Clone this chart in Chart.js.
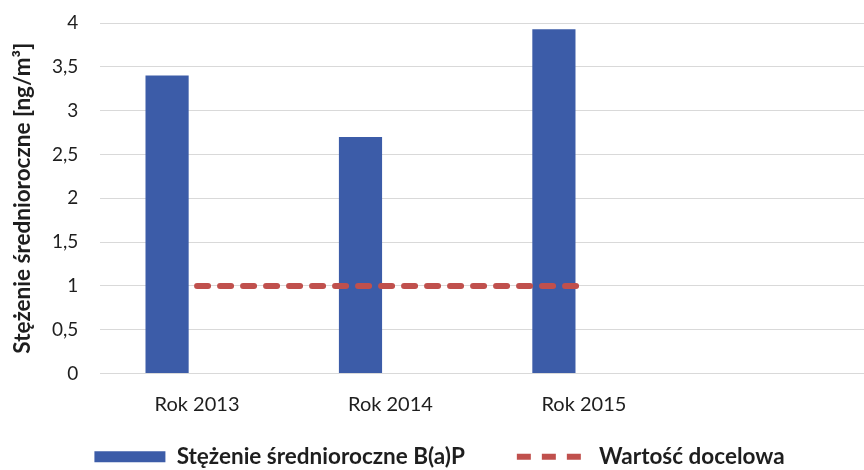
<!DOCTYPE html>
<html>
<head>
  <title>Stężenie średnioroczne B(a)P</title>
  <script src="https://cdn.jsdelivr.net/npm/chart.js"></script>
  <style>
    html, body { margin: 0; padding: 0; overflow: hidden; background: #fff; }
    #wrap { width: 874px; height: 470px; }
  </style>
</head>
<body>
  <div id="wrap"><canvas id="barChart"></canvas></div>

  <script>
    // Data
    var categories = ['Rok 2013', 'Rok 2014', 'Rok 2015', ''];
    var avgValues = [3.4, 2.7, 3.93, null];
    var targetValues = [1, 1, 1, null];
    var yTickLabels = ['0', '0,5', '1', '1,5', '2', '2,5', '3', '3,5', '4'];

    var barLabel = 'Stężenie średnioroczne B(a)P';
    var lineLabel = 'Wartość docelowa';
    var axisTitle = 'Stężenie średnioroczne [ng/m³]';

    var textColor = '#1e1e1e';

    new Chart(document.getElementById('barChart'), {
      type: 'bar',
      data: {
        labels: categories,
        datasets: [{
          type: 'line',
          label: lineLabel,
          data: targetValues,
          borderColor: '#c0504d',
          backgroundColor: '#c0504d',
          borderWidth: 6,
          borderDash: [11, 12],
          borderCapStyle: 'round',
          pointRadius: 0,
          pointStyle: 'line',
          fill: false,
          order: 0
        }, {
          label: barLabel,
          data: avgValues,
          backgroundColor: '#3c5ca8',
          borderWidth: 0,
          pointStyle: 'rect',
          categoryPercentage: 0.62,
          barPercentage: 0.72,
          order: 1
        }, {
          // empty second slot of each category (bars sit left of the tick)
          label: '',
          data: [null, null, null, null],
          backgroundColor: 'rgba(0,0,0,0)',
          categoryPercentage: 0.62,
          barPercentage: 0.72,
          order: 2
        }]
      },
      options: {
        responsive: true,
        maintainAspectRatio: false,
        animation: false,
        layout: { padding: { top: 23, left: 5, right: 0, bottom: -8 } },
        plugins: {
          tooltip: { enabled: false },
          legend: {
            position: 'bottom',
            labels: {
              usePointStyle: true,
              pointStyleWidth: 71,
              boxHeight: 11,
              padding: 30,
              color: textColor,
              font: { family: 'Lato', size: 22.5, weight: 'bold' },
              generateLabels: function (chart) {
                var items = Chart.defaults.plugins.legend.labels.generateLabels(chart);
                items = items.filter(function (item) { return item.text !== ''; });
                items.sort(function (a, b) { return b.datasetIndex - a.datasetIndex; });
                items.forEach(function (item) {
                  if (item.text === barLabel) {
                    item.text = barLabel + '    ';
                  } else {
                    item.lineDash = [14, 11];
                  }
                });
                return items;
              }
            }
          }
        },
        scales: {
          x: {
            grid: { display: false, drawTicks: false },
            border: { display: false },
            ticks: {
              padding: 19,
              color: textColor,
              font: { family: 'Lato', size: 20 }
            },
            afterFit: function (axis) {
              axis.height = 42;
            }
          },
          y: {
            min: 0,
            max: 4,
            grid: { color: '#d9d9d9', lineWidth: 1, drawTicks: true, tickLength: 12, tickColor: 'rgba(0,0,0,0)' },
            border: { display: false },
            ticks: {
              stepSize: 0.5,
              padding: 10,
              color: textColor,
              font: { family: 'Lato', size: 19 },
              callback: function (value) {
                return yTickLabels[Math.round(value * 2)];
              }
            },
            title: {
              display: true,
              text: axisTitle,
              color: textColor,
              padding: { top: 4, bottom: 6 },
              font: { family: 'Lato', size: 22.5, weight: 'bold' }
            }
          }
        }
      }
    });
  </script>
</body>
</html>
